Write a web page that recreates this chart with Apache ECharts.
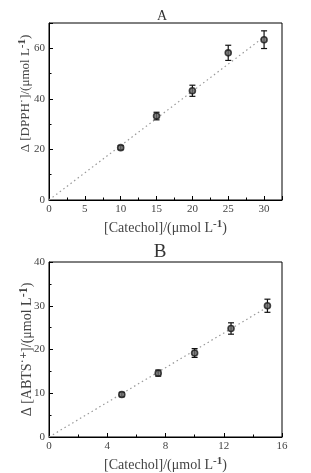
<!DOCTYPE html>
<html><head><meta charset="utf-8">
<script src="https://cdn.jsdelivr.net/npm/echarts@6/dist/echarts.min.js"></script>
<style>html,body{margin:0;padding:0;background:#fff}#c{width:311px;height:473px}</style>
</head><body><div id="c"></div>
<script>
// Panel A: DPPH
const xA = [10, 15, 20, 25, 30];
const yA = [20.7, 33.2, 43.2, 58.2, 63.4];
const errA = [0.8, 1.5, 2.2, 3.0, 3.5];
const fitXA = [0, 30];
const fitYA = [0, 64.5];
// Panel B: ABTS
const xB = [5, 7.5, 10, 12.5, 15];
const yB = [9.7, 14.6, 19.2, 24.8, 30.0];
const errB = [0.5, 0.7, 1.0, 1.3, 1.5];
const fitXB = [0, 15];
const fitYB = [0, 29.7];

const FONT = '"Liberation Serif","DejaVu Serif",serif';
const chart = echarts.init(document.getElementById('c'));

function pts(xs, ys) { return xs.map((x, i) => [x, ys[i]]); }
function errs(xs, ys, es) { return xs.map((x, i) => [x, ys[i], es[i]]); }

function errRender(params, api) {
  const x = api.value(0), y = api.value(1), e = api.value(2);
  const hi = api.coord([x, y + e]);
  const lo = api.coord([x, y - e]);
  const w = 3;
  const st = { stroke: '#111', lineWidth: 1.2 };
  return { type: 'group', children: [
    { type: 'line', shape: { x1: hi[0], y1: hi[1], x2: lo[0], y2: lo[1] }, style: st },
    { type: 'line', shape: { x1: hi[0] - w, y1: hi[1], x2: hi[0] + w, y2: hi[1] }, style: st },
    { type: 'line', shape: { x1: lo[0] - w, y1: lo[1], x2: lo[0] + w, y2: lo[1] }, style: st }
  ]};
}

const tickLabel = { fontFamily: FONT, fontSize: 11, color: '#444', margin: 4 };
function nameStyle(size, supSize, pad) {
  return {
    fontFamily: FONT, fontSize: size, color: '#444', padding: pad,
    rich: { sup: { fontFamily: FONT, fontSize: supSize, fontWeight: 'bold', color: '#444', verticalAlign: 'top', padding: [0, 0, Math.round(size / 2), 0] } }
  };
}

function xAxisCfg(gi, max, interval) {
  return {
    type: 'value', gridIndex: gi, min: 0, max: max, interval: interval,
    name: '[Catechol]/(μmol L{sup|-1})', nameLocation: 'middle', nameGap: 19,
    nameMoveOverlap: false,
    nameTextStyle: nameStyle(14, 11, 0),
    axisLine: { show: true, onZero: false, lineStyle: { color: '#000', width: 1 } },
    axisTick: { show: true, inside: true, length: 4, lineStyle: { color: '#000' } },
    minorTick: { show: true, splitNumber: 2, length: 2.5, lineStyle: { color: '#000' } },
    axisLabel: Object.assign({ showMaxLabel: max % interval === 0 }, tickLabel),
    splitLine: { show: false }
  };
}
function yAxisCfg(gi, max, interval, name, size, gap, pad) {
  return {
    type: 'value', gridIndex: gi, min: 0, max: max, interval: interval,
    name: name, nameLocation: 'middle', nameGap: gap,
    nameMoveOverlap: false,
    nameTextStyle: nameStyle(size, size - 2, pad),
    axisLine: { show: true, onZero: false, lineStyle: { color: '#000', width: 1 } },
    axisTick: { show: true, inside: true, length: 4, lineStyle: { color: '#000' } },
    minorTick: { show: true, splitNumber: 2, length: 2.5, lineStyle: { color: '#000' } },
    axisLabel: Object.assign({ showMaxLabel: max % interval === 0 }, tickLabel),
    splitLine: { show: false }
  };
}

const symbolStyle = { color: '#666', borderColor: '#1a1a1a', borderWidth: 1.6 };

chart.setOption({
  animation: false,
  title: [
    { text: 'A', left: 162, top: 9, padding: 0, textAlign: 'center', textStyle: { fontFamily: FONT, fontSize: 14, fontWeight: 'normal', color: '#333' } },
    { text: 'B', left: 160, top: 243, padding: 0, textAlign: 'center', textStyle: { fontFamily: FONT, fontSize: 19, fontWeight: 'normal', color: '#333' } }
  ],
  grid: [
    { left: 49, top: 23, width: 233, height: 177, show: true, borderColor: '#000', borderWidth: 1, backgroundColor: 'transparent' },
    { left: 49, top: 262, width: 233, height: 175, show: true, borderColor: '#000', borderWidth: 1, backgroundColor: 'transparent' }
  ],
  xAxis: [xAxisCfg(0, 32.5, 5), xAxisCfg(1, 16, 4)],
  yAxis: [
    yAxisCfg(0, 70, 20, 'Δ [DPPH˙]/(μmol L{sup|-1})', 13, 14, [0, 0, 0, 36]),
    yAxisCfg(1, 40, 10, 'Δ [ABTS˙{sup|+}]/(μmol L{sup|-1})', 14, 12, [0, 0, 0, 0])
  ],
  series: [
    { type: 'line', xAxisIndex: 0, yAxisIndex: 0, data: pts(fitXA, fitYA), symbol: 'none',
      lineStyle: { color: '#999', width: 1.2, type: [1.5, 3] }, z: 1 },
    { type: 'custom', xAxisIndex: 0, yAxisIndex: 0, data: errs(xA, yA, errA), renderItem: errRender, z: 2 },
    { type: 'scatter', xAxisIndex: 0, yAxisIndex: 0, data: pts(xA, yA), symbol: 'circle', symbolSize: 6, itemStyle: symbolStyle, z: 3 },
    { type: 'line', xAxisIndex: 1, yAxisIndex: 1, data: pts(fitXB, fitYB), symbol: 'none',
      lineStyle: { color: '#999', width: 1.2, type: [1.5, 3] }, z: 1 },
    { type: 'custom', xAxisIndex: 1, yAxisIndex: 1, data: errs(xB, yB, errB), renderItem: errRender, z: 2 },
    { type: 'scatter', xAxisIndex: 1, yAxisIndex: 1, data: pts(xB, yB), symbol: 'circle', symbolSize: 6, itemStyle: symbolStyle, z: 3 }
  ]
});
</script>
</body></html>
